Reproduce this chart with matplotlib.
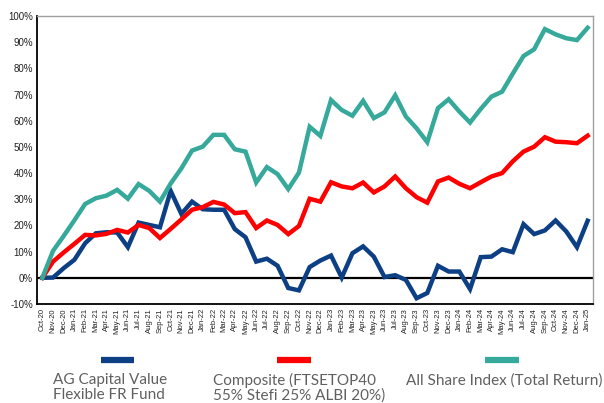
import matplotlib
matplotlib.use("Agg")
from matplotlib import pyplot as plt
from matplotlib.lines import Line2D
import numpy as np

months = ["Oct-20", "Nov-20", "Dec-20",
          "Jan-21", "Feb-21", "Mar-21", "Apr-21", "May-21", "Jun-21",
          "Jul-21", "Aug-21", "Sep-21", "Oct-21", "Nov-21", "Dec-21",
          "Jan-22", "Feb-22", "Mar-22", "Apr-22", "May-22", "Jun-22",
          "Jul-22", "Aug-22", "Sep-22", "Oct-22", "Nov-22", "Dec-22",
          "Jan-23", "Feb-23", "Mar-23", "Apr-23", "May-23", "Jun-23",
          "Jul-23", "Aug-23", "Sep-23", "Oct-23", "Nov-23", "Dec-23",
          "Jan-24", "Feb-24", "Mar-24", "Apr-24", "May-24", "Jun-24",
          "Jul-24", "Aug-24", "Sep-24", "Oct-24", "Nov-24", "Dec-24",
          "Jan-25"]

# cumulative return, %
fund = [0, 0.1, 3.7, 6.9, 13.2, 17, 17.4, 17.3, 11.7, 21.1,
        20.2, 19.3, 33.2, 24.4, 29.1, 26.2, 26, 26, 18.6, 15.5,
        6.2, 7.3, 4.6, -3.9, -4.8, 4.1, 6.6, 8.5, 0.1, 9.4,
        12, 8.1, 0.3, 1, -0.8, -7.8, -5.8, 4.6, 2.4, 2.4,
        -4.3, 7.9, 8.1, 10.9, 9.8, 20.5, 16.7, 18.1, 21.9, 17.7,
        11.7, 21.8]
composite = [0, 6.2, 9.7, 13, 16.4, 16.2, 16.8, 18.3, 17.3, 20.2,
             19, 15.2, 18.7, 22.3, 26, 27, 29, 28, 24.7, 25.1,
             19, 21.9, 20.2, 16.7, 19.8, 30.2, 29.1, 36.5, 34.9, 34.2,
             36.4, 32.6, 34.9, 38.7, 34.2, 30.8, 28.7, 36.8, 38.3, 35.9,
             34.2, 36.5, 38.7, 40, 44.5, 48.2, 50.1, 53.7, 52, 51.8,
             51.4, 54.3]
all_share = [0, 10.3, 16, 22, 28.2, 30.4, 31.4, 33.6, 30.2, 35.8,
             33.2, 29.1, 36, 41.8, 48.6, 50.1, 54.6, 54.6, 49.1, 48.2,
             36.4, 42.3, 39.6, 33.9, 40.2, 57.7, 54.2, 67.9, 64.1, 61.9,
             67.6, 61, 63.2, 69.7, 61.6, 57.1, 51.8, 64.8, 68.2, 63.5,
             59.3, 64.5, 69.2, 71.1, 78, 84.7, 87.3, 95, 93, 91.5,
             90.8, 95.5]

series_names = ["AG Capital Value\nFlexible FR Fund",
                "Composite (FTSETOP40\n55% Stefi 25% ALBI 20%)",
                "All Share Index (Total Return)"]
series_colors = ["#0d3f84", "#ff0000", "#36a99b"]


def main():
    W, H = 604, 403
    fig = plt.figure(figsize=(W / 100, H / 100), dpi=100)
    ax = fig.add_axes([37 / W, 1 - 304 / H, (593 - 37) / W, (304 - 16) / H])

    x = np.arange(len(months))
    for vals, c in zip([fund, composite, all_share], series_colors):
        ax.plot(x, vals, color=c, linewidth=3.2, solid_joinstyle="miter")

    ax.axhline(0, color="black", linewidth=1.6, zorder=1)
    ax.set_xlim(-0.5, len(months) - 0.5)
    ax.set_ylim(-10, 100)
    ax.set_yticks(np.arange(-10, 101, 10))
    ax.set_yticklabels(["%d%%" % v for v in range(-10, 101, 10)],
                       fontsize=7, family="Liberation Sans", color="#222222")
    ax.set_xticks(x)
    ax.set_xticklabels(months, rotation=90, fontsize=5.5,
                       family="Liberation Sans", color="#222222")
    ax.tick_params(axis="both", length=0, pad=3)

    for side in ["top", "right"]:
        ax.spines[side].set_color("#a0a0a0")
        ax.spines[side].set_linewidth(1)
    for side in ["left", "bottom"]:
        ax.spines[side].set_color("black")
        ax.spines[side].set_linewidth(1.3)

    # legend drawn by hand below the axes
    swatches = [(101, 134), (277, 311), (485, 519)]
    text_x = [53, 213, 406]
    for (x0, x1), tx, name, c in zip(swatches, text_x, series_names, series_colors):
        fig.add_artist(Line2D([x0 / W, x1 / W], [1 - 360 / H, 1 - 360 / H],
                              color=c, linewidth=4.5, solid_capstyle="butt"))
        fig.text(tx / W, 1 - 373 / H, name, ha="left", va="top",
                 fontsize=11, family="Lato", color="#606060", linespacing=1.05)

    fig.savefig("out.png", dpi=100)


if __name__ == '__main__':
    main()
